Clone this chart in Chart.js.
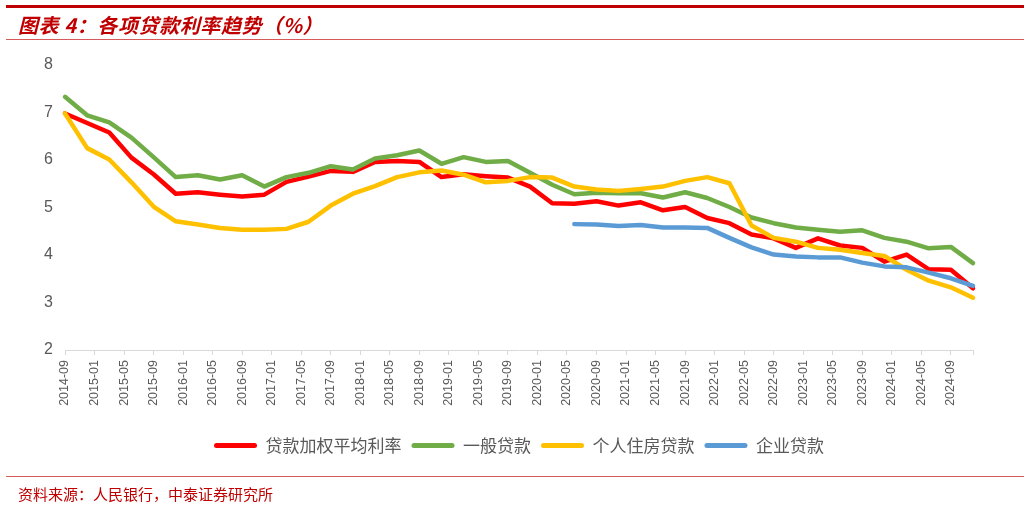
<!DOCTYPE html>
<html>
<head>
<meta charset="utf-8">
<script src="https://cdn.jsdelivr.net/npm/chart.js@4.4.1/dist/chart.umd.min.js"></script>
<style>
  body { margin: 0; background: #fff; }
  #wrap { position: relative; width: 1030px; height: 505px; overflow: hidden; }
  #rate-chart { position: absolute; left: 0; top: 0; }
  .bar { position: absolute; left: 6px; width: 1018px; }
  #topbar { top: 5px; height: 3px; background: #c00000; }
  #rule1 { top: 39px; height: 1px; background: #d65a5a; }
  #rule2 { top: 476px; height: 1px; background: #d65a5a; }
  #title { position: absolute; left: 18px; top: 10px; line-height: 28px; font: italic bold 20px "Noto Sans CJK SC"; letter-spacing: 0.6px; color: #c00000; }
  #source { position: absolute; left: 18px; top: 483px; line-height: 20px; font: 15px "Noto Sans CJK SC"; color: #c00000; }
</style>
</head>
<body>
<div id="wrap">
  <canvas id="rate-chart" width="1030" height="505"></canvas>
  <div class="bar" id="topbar"></div>
  <div id="title">图表 4：各项贷款利率趋势（%）</div>
  <div class="bar" id="rule1"></div>
  <div class="bar" id="rule2"></div>
  <div id="source">资料来源：人民银行，中泰证券研究所</div>
</div>
<script>
// quarter-end dates of each reading
const quarters = [
	"2014-09", "2014-12",
	"2015-03", "2015-06", "2015-09", "2015-12",
	"2016-03", "2016-06", "2016-09", "2016-12",
	"2017-03", "2017-06", "2017-09", "2017-12",
	"2018-03", "2018-06", "2018-09", "2018-12",
	"2019-03", "2019-06", "2019-09", "2019-12",
	"2020-03", "2020-06", "2020-09", "2020-12",
	"2021-03", "2021-06", "2021-09", "2021-12",
	"2022-03", "2022-06", "2022-09", "2022-12",
	"2023-03", "2023-06", "2023-09", "2023-12",
	"2024-03", "2024-06", "2024-09", "2024-12"
];

const seriesNames = ["贷款加权平均利率", "一般贷款", "个人住房贷款", "企业贷款"];

const avgRate = [6.98, 6.78, 6.58, 6.05, 5.70, 5.29, 5.32, 5.27, 5.23, 5.27, 5.54, 5.65, 5.77, 5.75,
	5.96, 5.98, 5.96, 5.64, 5.70, 5.66, 5.63, 5.44, 5.09, 5.08, 5.13, 5.04, 5.11, 4.94,
	5.01, 4.78, 4.67, 4.43, 4.35, 4.15, 4.35, 4.20, 4.15, 3.86, 4.01, 3.70, 3.69, 3.30];

const generalLoans = [7.33, 6.94, 6.79, 6.47, 6.06, 5.64, 5.68, 5.59, 5.68, 5.44, 5.64, 5.73, 5.87, 5.80,
	6.03, 6.10, 6.20, 5.92, 6.06, 5.96, 5.98, 5.73, 5.48, 5.28, 5.31, 5.30, 5.30, 5.21,
	5.32, 5.20, 5.01, 4.79, 4.67, 4.58, 4.53, 4.49, 4.52, 4.36, 4.28, 4.14, 4.17, 3.83];

const mortgage = [6.98, 6.25, 6.01, 5.53, 5.02, 4.71, 4.64, 4.57, 4.53, 4.53, 4.55, 4.70, 5.04, 5.29,
	5.45, 5.64, 5.74, 5.78, 5.69, 5.53, 5.56, 5.64, 5.63, 5.44, 5.38, 5.35, 5.39, 5.44,
	5.56, 5.64, 5.51, 4.62, 4.36, 4.28, 4.15, 4.11, 4.04, 3.98, 3.69, 3.46, 3.32, 3.10];

// corporate loans only published from 2020-06
const corporate = [null, null, null, null, null, null, null, null, null, null, null, null, null, null,
	null, null, null, null, null, null, null, null, null, 4.65, 4.64, 4.61, 4.63, 4.58,
	4.58, 4.57, 4.36, 4.16, 4.01, 3.97, 3.95, 3.95, 3.84, 3.76, 3.74, 3.63, 3.51, 3.35];

const colors = ["#ff0000", "#70ad47", "#ffc000", "#5b9bd5"];

// months counted from 2014-09
function monthIndex(s) {
	const [y, m] = s.split("-").map(Number);
	return (y - 2014) * 12 + m - 9;
}
function monthLabel(v) {
	const y = 2014 + Math.floor((v + 8) / 12);
	const m = (v + 8) % 12 + 1;
	return y + "-" + (m < 10 ? "0" + m : m);
}

const lastMonth = monthIndex(quarters[quarters.length - 1]);

function makeSet(name, values, color, order) {
	return {
		label: name,
		data: values.map((v, i) => ({ x: monthIndex(quarters[i]), y: v })),
		borderColor: color,
		backgroundColor: color,
		borderWidth: 4.5,
		borderCapStyle: "round",
		borderJoinStyle: "round",
		pointRadius: 0,
		tension: 0,
		clip: false,
		order: order
	};
}

const ctx = document.getElementById("rate-chart");
new Chart(ctx, {
	type: "line",
	data: {
		datasets: [
			makeSet(seriesNames[0], avgRate, colors[0], 4),
			makeSet(seriesNames[1], generalLoans, colors[1], 3),
			makeSet(seriesNames[2], mortgage, colors[2], 2),
			makeSet(seriesNames[3], corporate, colors[3], 1)
		]
	},
	options: {
		responsive: false,
		animation: false,
		layout: { padding: { left: 30, right: 57, top: 65, bottom: 41 } },
		plugins: {
			tooltip: { enabled: false },
			legend: {
				position: "bottom",
				fullSize: false,
				labels: {
					boxWidth: 43,
					boxHeight: 5,
					padding: 10,
					useBorderRadius: true,
					borderRadius: 2.5,
					color: "#595959",
					font: { family: "Noto Sans CJK SC", size: 17 },
					sort: (a, b) => a.datasetIndex - b.datasetIndex,
					generateLabels: (chart) => {
						const items = Chart.defaults.plugins.legend.labels.generateLabels(chart);
						items.forEach(it => { it.fillStyle = it.strokeStyle; it.lineWidth = 0; });
						return items;
					}
				}
			}
		},
		scales: {
			x: {
				type: "linear",
				min: 0,
				max: lastMonth,
				afterFit: (scale) => { scale.height = 77; },
				grid: {
					drawOnChartArea: false,
					drawTicks: true,
					tickLength: 5,
					color: "#d9d9d9"
				},
				border: { color: "#d9d9d9", width: 1 },
				ticks: {
					stepSize: 4,
					maxTicksLimit: 40,
					autoSkip: false,
					minRotation: 90,
					maxRotation: 90,
					padding: 5,
					color: "#595959",
					font: { family: "Liberation Sans", size: 12.5 },
					callback: (v) => (v % 4 === 0 ? monthLabel(v) : "")
				}
			},
			y: {
				min: 2,
				max: 8,
				afterFit: (scale) => { scale.width = 35; },
				grid: { display: false, drawTicks: false },
				border: { display: false },
				ticks: {
					stepSize: 1,
					padding: 12,
					color: "#595959",
					font: { family: "Liberation Sans", size: 16 }
				}
			}
		}
	}
});
</script>
</body>
</html>
